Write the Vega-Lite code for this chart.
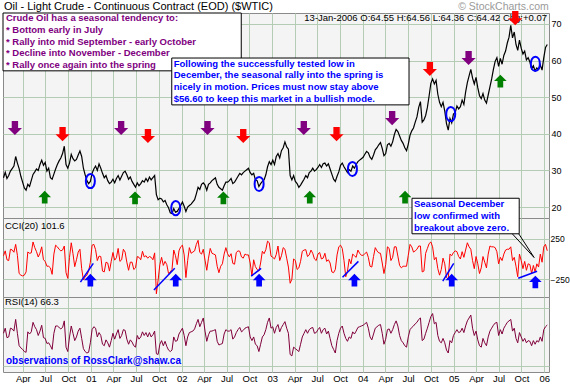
{
"$schema":"https://vega.github.io/schema/vega-lite/v6.json",
"padding":0,
"spacing":0,
"bounds":"flush",
"background":"white",
"config":{
 "view":{"fill":"#f4f4f4","stroke":"#8a8a8a","strokeWidth":1},
 "axis":{"gridColor":"#b4ccb4","gridOpacity":1,"gridWidth":1,"labelFont":"Liberation Sans","labelFontSize":9,"labelColor":"#000000","title":null,"domain":false,"ticks":false},
 "text":{"font":"Liberation Sans"}
},
"datasets":{
"s":[
{"d":"2000-01-14","p":28.0,"c":40,"r":55},{"d":"2000-01-21","p":29.5,"c":100,"r":62},{"d":"2000-01-28","p":27.8,"c":-10,"r":49},{"d":"2000-02-04","p":28.6,"c":-20,"r":50},{"d":"2000-02-11","p":29.8,"c":120,"r":62},{"d":"2000-02-18","p":30.5,"c":112,"r":61},{"d":"2000-02-25","p":31.2,"c":83,"r":58},{"d":"2000-03-03","p":33.8,"c":180,"r":74},{"d":"2000-03-10","p":32.0,"c":45,"r":55},{"d":"2000-03-17","p":30.5,"c":-180,"r":38},{"d":"2000-03-24","p":28.4,"c":-200,"r":35},{"d":"2000-03-31","p":26.8,"c":-210,"r":33},{"d":"2000-04-07","p":25.2,"c":-200,"r":30},{"d":"2000-04-14","p":24.6,"c":-160,"r":29},{"d":"2000-04-21","p":26.2,"c":86,"r":57},{"d":"2000-04-28","p":25.6,"c":70,"r":54},{"d":"2000-05-05","p":27.3,"c":75,"r":57},{"d":"2000-05-12","p":28.9,"c":210,"r":70},{"d":"2000-05-19","p":29.6,"c":140,"r":64},{"d":"2000-05-26","p":30.4,"c":90,"r":60},{"d":"2000-06-02","p":30.0,"c":24,"r":52},{"d":"2000-06-09","p":31.6,"c":72,"r":58},{"d":"2000-06-16","p":32.8,"c":150,"r":66},{"d":"2000-06-23","p":31.4,"c":-10,"r":49},{"d":"2000-06-30","p":32.2,"c":-30,"r":48},{"d":"2000-07-07","p":29.8,"c":-90,"r":41},{"d":"2000-07-14","p":30.6,"c":-90,"r":42},{"d":"2000-07-21","p":28.0,"c":-110,"r":38},{"d":"2000-07-28","p":27.6,"c":-190,"r":33},{"d":"2000-08-04","p":29.0,"c":60,"r":55},{"d":"2000-08-11","p":30.4,"c":170,"r":65},{"d":"2000-08-18","p":31.6,"c":150,"r":65},{"d":"2000-08-25","p":32.6,"c":120,"r":63},{"d":"2000-09-01","p":33.4,"c":100,"r":61},{"d":"2000-09-08","p":34.6,"c":110,"r":63},{"d":"2000-09-15","p":36.6,"c":160,"r":72},{"d":"2000-09-22","p":31.6,"c":-170,"r":36},{"d":"2000-09-29","p":30.6,"c":-240,"r":30},{"d":"2000-10-06","p":32.0,"c":20,"r":50},{"d":"2000-10-13","p":34.4,"c":200,"r":65},{"d":"2000-10-20","p":33.2,"c":65,"r":55},{"d":"2000-10-27","p":32.6,"c":-95,"r":45},{"d":"2000-11-03","p":33.0,"c":-10,"r":50},{"d":"2000-11-10","p":34.2,"c":85,"r":58},{"d":"2000-11-17","p":35.3,"c":120,"r":62},{"d":"2000-11-24","p":33.8,"c":-120,"r":48},{"d":"2000-12-01","p":30.6,"c":-260,"r":34},{"d":"2000-12-08","p":28.8,"c":-220,"r":30},{"d":"2000-12-15","p":27.2,"c":-200,"r":28},{"d":"2000-12-22","p":26.4,"c":-150,"r":29},{"d":"2000-12-29","p":27.0,"c":-40,"r":42},
{"d":"2001-01-05","p":29.2,"c":170,"r":60},{"d":"2001-01-12","p":30.4,"c":180,"r":64},{"d":"2001-01-19","p":31.2,"c":115,"r":62},{"d":"2001-01-26","p":30.0,"c":-20,"r":50},{"d":"2001-02-02","p":31.8,"c":35,"r":56},{"d":"2001-02-09","p":30.6,"c":30,"r":52},{"d":"2001-02-16","p":29.2,"c":-150,"r":40},{"d":"2001-02-23","p":28.0,"c":-160,"r":38},{"d":"2001-03-02","p":28.6,"c":-40,"r":46},{"d":"2001-03-09","p":27.2,"c":-50,"r":42},{"d":"2001-03-16","p":26.4,"c":-150,"r":36},{"d":"2001-03-23","p":26.8,"c":-30,"r":45},{"d":"2001-03-30","p":27.6,"c":80,"r":55},{"d":"2001-04-06","p":26.6,"c":-15,"r":47},{"d":"2001-04-13","p":27.8,"c":15,"r":54},{"d":"2001-04-20","p":28.6,"c":130,"r":60},{"d":"2001-04-27","p":27.4,"c":-30,"r":48},{"d":"2001-05-04","p":28.4,"c":-10,"r":52},{"d":"2001-05-11","p":29.4,"c":120,"r":60},{"d":"2001-05-18","p":29.8,"c":85,"r":59},{"d":"2001-05-25","p":28.8,"c":-40,"r":47},{"d":"2001-06-01","p":27.6,"c":-140,"r":40},{"d":"2001-06-08","p":28.2,"c":-40,"r":46},{"d":"2001-06-15","p":27.0,"c":-40,"r":43},{"d":"2001-06-22","p":26.2,"c":-130,"r":38},{"d":"2001-06-29","p":25.4,"c":-110,"r":36},{"d":"2001-07-06","p":26.6,"c":30,"r":52},{"d":"2001-07-13","p":25.8,"c":20,"r":47},{"d":"2001-07-20","p":26.4,"c":-10,"r":50},{"d":"2001-07-27","p":27.2,"c":95,"r":57},{"d":"2001-08-03","p":26.8,"c":25,"r":52},{"d":"2001-08-10","p":27.8,"c":40,"r":56},{"d":"2001-08-17","p":27.0,"c":10,"r":50},{"d":"2001-08-24","p":28.2,"c":30,"r":56},{"d":"2001-08-31","p":27.4,"c":20,"r":50},{"d":"2001-09-07","p":28.0,"c":-10,"r":53},{"d":"2001-09-14","p":28.6,"c":75,"r":58},{"d":"2001-09-21","p":23.4,"c":-430,"r":27},{"d":"2001-09-28","p":22.0,"c":-260,"r":26},{"d":"2001-10-05","p":22.4,"c":-70,"r":40},{"d":"2001-10-12","p":22.2,"c":20,"r":45},{"d":"2001-10-19","p":21.4,"c":-80,"r":38},{"d":"2001-10-26","p":21.8,"c":-30,"r":44},{"d":"2001-11-02","p":20.6,"c":-70,"r":37},{"d":"2001-11-09","p":19.8,"c":-180,"r":32},{"d":"2001-11-16","p":18.4,"c":-160,"r":30},{"d":"2001-11-23","p":18.2,"c":-130,"r":32},{"d":"2001-11-30","p":19.6,"c":110,"r":50},{"d":"2001-12-07","p":18.6,"c":40,"r":44},{"d":"2001-12-14","p":18.8,"c":-70,"r":45},{"d":"2001-12-21","p":19.6,"c":100,"r":54},{"d":"2001-12-28","p":20.4,"c":150,"r":58},
{"d":"2002-01-04","p":21.4,"c":170,"r":62},{"d":"2002-01-11","p":20.2,"c":50,"r":52},{"d":"2002-01-18","p":18.8,"c":-230,"r":38},{"d":"2002-01-25","p":20.0,"c":-20,"r":50},{"d":"2002-02-01","p":20.4,"c":140,"r":56},{"d":"2002-02-08","p":20.8,"c":70,"r":57},{"d":"2002-02-15","p":21.4,"c":85,"r":58},{"d":"2002-02-22","p":22.0,"c":100,"r":61},{"d":"2002-03-01","p":23.6,"c":180,"r":68},{"d":"2002-03-08","p":25.4,"c":230,"r":74},{"d":"2002-03-15","p":24.8,"c":80,"r":64},{"d":"2002-03-22","p":26.2,"c":60,"r":70},{"d":"2002-03-29","p":26.6,"c":120,"r":76},{"d":"2002-04-05","p":26.0,"c":-15,"r":58},{"d":"2002-04-12","p":24.6,"c":-140,"r":44},{"d":"2002-04-19","p":26.2,"c":10,"r":53},{"d":"2002-04-26","p":26.6,"c":130,"r":58},{"d":"2002-05-03","p":27.2,"c":70,"r":58},{"d":"2002-05-10","p":27.6,"c":60,"r":59},{"d":"2002-05-17","p":28.0,"c":50,"r":60},{"d":"2002-05-24","p":26.2,"c":-90,"r":44},{"d":"2002-05-31","p":25.4,"c":-170,"r":39},{"d":"2002-06-07","p":25.0,"c":-90,"r":40},{"d":"2002-06-14","p":24.6,"c":-60,"r":41},{"d":"2002-06-21","p":25.8,"c":60,"r":54},{"d":"2002-06-28","p":26.8,"c":140,"r":60},{"d":"2002-07-05","p":26.8,"c":65,"r":58},{"d":"2002-07-12","p":27.2,"c":25,"r":58},{"d":"2002-07-19","p":27.8,"c":65,"r":60},{"d":"2002-07-26","p":26.4,"c":-55,"r":47},{"d":"2002-08-02","p":26.8,"c":-65,"r":50},{"d":"2002-08-09","p":27.6,"c":80,"r":56},{"d":"2002-08-16","p":28.4,"c":100,"r":60},{"d":"2002-08-23","p":29.2,"c":95,"r":63},{"d":"2002-08-30","p":28.8,"c":25,"r":57},{"d":"2002-09-06","p":29.4,"c":10,"r":59},{"d":"2002-09-13","p":29.8,"c":60,"r":62},{"d":"2002-09-20","p":30.2,"c":50,"r":63},{"d":"2002-09-27","p":30.6,"c":50,"r":64},{"d":"2002-10-04","p":29.4,"c":-50,"r":50},{"d":"2002-10-11","p":28.8,"c":-210,"r":45},{"d":"2002-10-18","p":29.2,"c":-10,"r":50},{"d":"2002-10-25","p":27.4,"c":-95,"r":40},{"d":"2002-11-01","p":27.2,"c":-130,"r":38},{"d":"2002-11-08","p":25.6,"c":-150,"r":30},{"d":"2002-11-15","p":26.4,"c":-50,"r":40},{"d":"2002-11-22","p":27.0,"c":95,"r":50},{"d":"2002-11-29","p":27.4,"c":65,"r":53},{"d":"2002-12-06","p":28.8,"c":115,"r":60},{"d":"2002-12-13","p":31.0,"c":220,"r":70},{"d":"2002-12-20","p":32.4,"c":200,"r":76},{"d":"2002-12-27","p":31.6,"c":35,"r":62},
{"d":"2003-01-03","p":32.8,"c":20,"r":64},{"d":"2003-01-10","p":31.6,"c":0,"r":55},{"d":"2003-01-17","p":33.8,"c":55,"r":63},{"d":"2003-01-24","p":34.6,"c":160,"r":67},{"d":"2003-01-31","p":33.4,"c":-20,"r":57},{"d":"2003-02-07","p":35.4,"c":40,"r":63},{"d":"2003-02-14","p":36.2,"c":140,"r":67},{"d":"2003-02-21","p":37.8,"c":120,"r":71},{"d":"2003-02-28","p":36.4,"c":10,"r":62},{"d":"2003-03-07","p":35.8,"c":-100,"r":55},{"d":"2003-03-14","p":28.6,"c":-300,"r":26},{"d":"2003-03-21","p":27.4,"c":-250,"r":24},{"d":"2003-03-28","p":28.6,"c":0,"r":36},{"d":"2003-04-04","p":27.0,"c":-20,"r":34},{"d":"2003-04-11","p":26.4,"c":-130,"r":32},{"d":"2003-04-18","p":25.4,"c":-110,"r":30},{"d":"2003-04-25","p":26.0,"c":-30,"r":40},{"d":"2003-05-02","p":26.8,"c":95,"r":50},{"d":"2003-05-09","p":27.6,"c":110,"r":55},{"d":"2003-05-16","p":28.6,"c":115,"r":60},{"d":"2003-05-23","p":28.0,"c":30,"r":55},{"d":"2003-05-30","p":29.4,"c":50,"r":60},{"d":"2003-06-06","p":29.8,"c":110,"r":62},{"d":"2003-06-13","p":30.6,"c":70,"r":63},{"d":"2003-06-20","p":29.8,"c":0,"r":55},{"d":"2003-06-27","p":30.2,"c":-20,"r":56},{"d":"2003-07-04","p":30.8,"c":60,"r":60},{"d":"2003-07-11","p":31.6,"c":80,"r":63},{"d":"2003-07-18","p":30.8,"c":0,"r":55},{"d":"2003-07-25","p":31.8,"c":10,"r":60},{"d":"2003-08-01","p":32.0,"c":70,"r":62},{"d":"2003-08-08","p":31.2,"c":-30,"r":54},{"d":"2003-08-15","p":31.8,"c":-10,"r":58},{"d":"2003-08-22","p":30.4,"c":-50,"r":48},{"d":"2003-08-29","p":29.0,"c":-160,"r":38},{"d":"2003-09-05","p":27.6,"c":-170,"r":33},{"d":"2003-09-12","p":27.0,"c":-130,"r":28},{"d":"2003-09-19","p":28.4,"c":50,"r":45},{"d":"2003-09-26","p":29.6,"c":150,"r":55},{"d":"2003-10-03","p":31.4,"c":170,"r":62},{"d":"2003-10-10","p":32.0,"c":130,"r":65},{"d":"2003-10-17","p":31.0,"c":-20,"r":55},{"d":"2003-10-24","p":30.2,"c":-220,"r":48},{"d":"2003-10-31","p":29.4,"c":-150,"r":44},{"d":"2003-11-07","p":30.2,"c":0,"r":50},{"d":"2003-11-14","p":29.8,"c":-60,"r":48},{"d":"2003-11-21","p":31.2,"c":60,"r":57},{"d":"2003-11-28","p":30.6,"c":40,"r":54},{"d":"2003-12-05","p":31.6,"c":20,"r":58},{"d":"2003-12-12","p":32.4,"c":110,"r":63},{"d":"2003-12-19","p":32.8,"c":70,"r":64},{"d":"2003-12-26","p":33.2,"c":45,"r":65},
{"d":"2004-01-02","p":33.6,"c":45,"r":66},{"d":"2004-01-09","p":34.4,"c":65,"r":68},{"d":"2004-01-16","p":35.2,"c":85,"r":70},{"d":"2004-01-23","p":34.8,"c":20,"r":62},{"d":"2004-01-30","p":33.6,"c":-90,"r":50},{"d":"2004-02-06","p":33.0,"c":-100,"r":46},{"d":"2004-02-13","p":34.2,"c":30,"r":54},{"d":"2004-02-20","p":35.6,"c":140,"r":62},{"d":"2004-02-27","p":36.2,"c":100,"r":64},{"d":"2004-03-05","p":37.0,"c":75,"r":66},{"d":"2004-03-12","p":37.6,"c":70,"r":67},{"d":"2004-03-19","p":36.0,"c":-50,"r":55},{"d":"2004-03-26","p":34.0,"c":-180,"r":40},{"d":"2004-04-02","p":34.6,"c":-70,"r":47},{"d":"2004-04-09","p":37.0,"c":150,"r":60},{"d":"2004-04-16","p":37.4,"c":130,"r":61},{"d":"2004-04-23","p":36.6,"c":-20,"r":55},{"d":"2004-04-30","p":37.8,"c":20,"r":60},{"d":"2004-05-07","p":39.8,"c":150,"r":67},{"d":"2004-05-14","p":41.2,"c":150,"r":72},{"d":"2004-05-21","p":40.6,"c":35,"r":65},{"d":"2004-05-28","p":39.4,"c":-80,"r":52},{"d":"2004-06-04","p":38.2,"c":-110,"r":45},{"d":"2004-06-11","p":37.4,"c":-90,"r":42},{"d":"2004-06-18","p":36.2,"c":-90,"r":38},{"d":"2004-06-25","p":35.4,"c":-90,"r":36},{"d":"2004-07-02","p":37.2,"c":45,"r":50},{"d":"2004-07-09","p":39.6,"c":180,"r":60},{"d":"2004-07-16","p":40.8,"c":150,"r":63},{"d":"2004-07-23","p":41.6,"c":85,"r":65},{"d":"2004-07-30","p":43.2,"c":100,"r":68},{"d":"2004-08-06","p":44.6,"c":120,"r":70},{"d":"2004-08-13","p":47.2,"c":160,"r":74},{"d":"2004-08-20","p":48.8,"c":160,"r":76},{"d":"2004-08-27","p":43.2,"c":-160,"r":45},{"d":"2004-09-03","p":43.8,"c":-150,"r":47},{"d":"2004-09-10","p":45.0,"c":70,"r":55},{"d":"2004-09-17","p":47.2,"c":130,"r":62},{"d":"2004-09-24","p":50.4,"c":190,"r":70},{"d":"2004-10-01","p":53.8,"c":210,"r":78},{"d":"2004-10-08","p":55.0,"c":150,"r":82},{"d":"2004-10-15","p":53.6,"c":-10,"r":68},{"d":"2004-10-22","p":54.6,"c":20,"r":70},{"d":"2004-10-29","p":50.8,"c":-120,"r":52},{"d":"2004-11-05","p":48.6,"c":-200,"r":44},{"d":"2004-11-12","p":47.4,"c":-130,"r":42},{"d":"2004-11-19","p":48.6,"c":10,"r":48},{"d":"2004-11-26","p":46.2,"c":-60,"r":42},{"d":"2004-12-03","p":42.8,"c":-230,"r":32},{"d":"2004-12-10","p":41.0,"c":-250,"r":28},{"d":"2004-12-17","p":44.2,"c":60,"r":45},{"d":"2004-12-24","p":43.0,"c":40,"r":42},{"d":"2004-12-31","p":45.4,"c":80,"r":52},
{"d":"2005-01-07","p":45.8,"c":100,"r":56},{"d":"2005-01-14","p":47.6,"c":90,"r":60},{"d":"2005-01-21","p":46.8,"c":30,"r":56},{"d":"2005-01-28","p":47.4,"c":0,"r":57},{"d":"2005-02-04","p":49.2,"c":90,"r":62},{"d":"2005-02-11","p":48.0,"c":20,"r":56},{"d":"2005-02-18","p":51.4,"c":110,"r":65},{"d":"2005-02-25","p":54.0,"c":200,"r":72},{"d":"2005-03-04","p":55.8,"c":150,"r":76},{"d":"2005-03-11","p":57.6,"c":120,"r":80},{"d":"2005-03-18","p":55.2,"c":-20,"r":62},{"d":"2005-03-25","p":53.6,"c":-120,"r":52},{"d":"2005-04-01","p":55.4,"c":30,"r":58},{"d":"2005-04-08","p":52.6,"c":-60,"r":46},{"d":"2005-04-15","p":50.4,"c":-180,"r":38},{"d":"2005-04-22","p":49.6,"c":-110,"r":36},{"d":"2005-04-29","p":51.0,"c":30,"r":48},{"d":"2005-05-06","p":49.2,"c":-40,"r":42},{"d":"2005-05-13","p":48.4,"c":-110,"r":38},{"d":"2005-05-20","p":50.6,"c":60,"r":50},{"d":"2005-05-27","p":52.8,"c":160,"r":58},{"d":"2005-06-03","p":55.0,"c":150,"r":62},{"d":"2005-06-10","p":57.6,"c":150,"r":66},{"d":"2005-06-17","p":59.8,"c":140,"r":69},{"d":"2005-06-24","p":60.8,"c":90,"r":70},{"d":"2005-07-01","p":58.4,"c":-60,"r":52},{"d":"2005-07-08","p":60.6,"c":20,"r":60},{"d":"2005-07-15","p":59.0,"c":-20,"r":54},{"d":"2005-07-22","p":61.4,"c":60,"r":62},{"d":"2005-07-29","p":62.6,"c":110,"r":66},{"d":"2005-08-05","p":64.8,"c":120,"r":70},{"d":"2005-08-12","p":66.4,"c":120,"r":72},{"d":"2005-08-19","p":69.6,"c":150,"r":74},{"d":"2005-08-26","p":66.2,"c":-20,"r":58},{"d":"2005-09-02","p":67.8,"c":20,"r":62},{"d":"2005-09-09","p":64.4,"c":-90,"r":48},{"d":"2005-09-16","p":62.8,"c":-220,"r":42},{"d":"2005-09-23","p":65.6,"c":60,"r":56},{"d":"2005-09-30","p":63.4,"c":-20,"r":50},{"d":"2005-10-07","p":61.8,"c":-120,"r":44},{"d":"2005-10-14","p":62.6,"c":-30,"r":48},{"d":"2005-10-21","p":60.2,"c":-140,"r":42},{"d":"2005-10-28","p":60.8,"c":-60,"r":45},{"d":"2005-11-04","p":59.6,"c":-70,"r":44},{"d":"2005-11-11","p":57.8,"c":-180,"r":38},{"d":"2005-11-18","p":58.6,"c":-80,"r":45},{"d":"2005-11-25","p":57.2,"c":-160,"r":40},{"d":"2005-12-02","p":58.0,"c":-60,"r":45},{"d":"2005-12-09","p":57.6,"c":-100,"r":43},{"d":"2005-12-16","p":58.8,"c":60,"r":50},{"d":"2005-12-23","p":57.4,"c":-40,"r":44},{"d":"2005-12-30","p":60.8,"c":150,"r":60},{"d":"2006-01-06","p":63.6,"c":180,"r":64},{"d":"2006-01-13","p":64.4,"c":101.6,"r":66.3}
],
"down":[
{"d":"2000-02-29","v":41.6,"k":"#800080"},{"d":"2001-05-02","v":41.6,"k":"#800080"},{"d":"2002-04-15","v":41.6,"k":"#800080"},{"d":"2003-05-08","v":41.6,"k":"#800080"},{"d":"2004-04-28","v":44.3,"k":"#800080"},{"d":"2005-03-02","v":60.7,"k":"#800080"},
{"d":"2000-09-08","v":39.9,"k":"#ff0000"},{"d":"2001-08-18","v":39.4,"k":"#ff0000"},{"d":"2002-09-06","v":39.4,"k":"#ff0000"},{"d":"2003-09-17","v":39.9,"k":"#ff0000"},{"d":"2004-09-27","v":57.7,"k":"#ff0000"},{"d":"2005-09-06","v":71.6,"k":"#ff0000"}
],
"up":[
{"d":"2000-06-28","v":22.7},{"d":"2001-06-27","v":22.5},{"d":"2002-06-18","v":22.5},{"d":"2003-06-01","v":22.7},{"d":"2004-06-19","v":22.7},{"d":"2005-07-08","v":54.4}
],
"circ":[
{"d":"2000-12-29","v":27.1},{"d":"2001-12-08","v":19.7},{"d":"2002-11-09","v":26.3},{"d":"2003-11-20","v":30.4},{"d":"2004-12-20","v":45.4},{"d":"2005-11-26","v":59.1}
],
"bup":[
{"d":"2000-12-29","v":-262},{"d":"2001-12-08","v":-262},{"d":"2002-11-09","v":-262},{"d":"2003-11-28","v":-262},{"d":"2004-12-24","v":-262},{"d":"2005-11-26","v":-285}
],
"tl":[
{"d":"2000-11-19","v":-287,"d2":"2001-01-10","v2":-55},{"d":"2001-09-11","v":-384,"d2":"2001-12-04","v2":-116},{"d":"2002-10-08","v":-213,"d2":"2002-11-17","v2":-116},{"d":"2003-10-11","v":-226,"d2":"2003-12-14","v2":-30},{"d":"2004-11-18","v":-274,"d2":"2005-01-01","v2":-55},{"d":"2005-09-18","v":-238,"d2":"2005-12-03","v2":-152}
]
},
"vconcat":[
{
 "width":546,"height":205,
 "encoding":{"x":{"field":"d","type":"temporal","scale":{"type":"utc","domain":[{"year":2000,"month":1,"date":12,"utc":true},{"year":2006,"month":1,"date":20,"utc":true}]},"axis":{"labels":false,"grid":true,"tickCount":{"interval":"month","step":3}}}},
 "layer":[
  {"data":{"name":"s"},"mark":{"type":"line","color":"#000000","strokeWidth":1.2},
   "encoding":{"y":{"field":"p","type":"quantitative","scale":{"domain":[17,73],"nice":false,"zero":false},"axis":{"orient":"right","values":[20,25,30,35,40,45,50,55,60,65,70],"labelExpr":"datum.value % 10 == 0 ? datum.label : ''","grid":true,"labelPadding":2}}}},
  {"data":{"values":[{"d":"2000-01-12","d2":"2002-08-29","v":73,"v2":57.2},{"d":"2001-11-22","d2":"2004-07-05","v":60.7,"v2":47.9}]},
   "mark":{"type":"rect","fill":"#ffffff","stroke":"#000000","strokeWidth":1,"clip":false},
   "encoding":{"x2":{"field":"d2"},"y":{"field":"v","type":"quantitative"},"y2":{"field":"v2"}}},
  {"data":{"values":[{"d":"2000-01-24","v":71.6,"t":"Crude Oil has a seasonal tendency to:"},{"d":"2000-01-24","v":68.4,"t":"* Bottom early in July"},{"d":"2000-01-24","v":65.1,"t":"* Rally into mid September - early October"},{"d":"2000-01-24","v":62.1,"t":"* Decline into November - December"},{"d":"2000-01-24","v":58.8,"t":"* Rally once again into the spring"}]},
   "mark":{"type":"text","align":"left","baseline":"middle","fontSize":9.5,"fontWeight":"bold","color":"#800080","clip":false},
   "encoding":{"y":{"field":"v","type":"quantitative"},"text":{"field":"t"}}},
  {"data":{"values":[{"d":"2001-11-30","v":59.1,"t":"Following the successfully tested low in"},{"d":"2001-11-30","v":56.1,"t":"December, the seasonal rally into the spring is"},{"d":"2001-11-30","v":52.8,"t":"nicely in motion.  Prices must now stay above"},{"d":"2001-11-30","v":49.5,"t":"$56.60 to keep this market in a bullish mode."}]},
   "mark":{"type":"text","align":"left","baseline":"middle","fontSize":9.5,"fontWeight":"bold","color":"#0000ff","clip":false},
   "encoding":{"y":{"field":"v","type":"quantitative"},"text":{"field":"t"}}},
  {"data":{"values":[{"d":"2000-01-16","v":74.6,"t":"Oil - Light Crude - Continuous Contract (EOD) ($WTIC)"}]},
   "mark":{"type":"text","align":"left","baseline":"middle","fontSize":11,"color":"#000000","clip":false},
   "encoding":{"y":{"field":"v","type":"quantitative"},"text":{"field":"t"}}},
  {"data":{"values":[{"d":"2006-01-19","v":74.6,"t":"© StockCharts.com"}]},
   "mark":{"type":"text","align":"right","baseline":"middle","fontSize":10.5,"color":"#9a9a9a","clip":false},
   "encoding":{"y":{"field":"v","type":"quantitative"},"text":{"field":"t"}}},
  {"data":{"values":[{"d":"2006-01-12","v":71.6,"t":"13-Jan-2006 O:64.55 H:64.56 L:64.36 C:64.42 Chg:+0.07"}]},
   "mark":{"type":"text","align":"right","baseline":"middle","fontSize":9.5,"color":"#000000","clip":false},
   "encoding":{"y":{"field":"v","type":"quantitative"},"text":{"field":"t"}}},
  {"data":{"name":"circ"},
   "mark":{"type":"point","shape":"M0,-1C0.85,-1 0.85,1 0,1C-0.85,1 -0.85,-1 0,-1Z","filled":false,"stroke":"#0000ff","strokeWidth":2,"size":200,"opacity":1},
   "encoding":{"y":{"field":"v","type":"quantitative"}}},
  {"data":{"name":"down"},
   "mark":{"type":"point","shape":"M-0.45,-1L0.45,-1L0.45,0L1,0L0,1L-1,0L-0.45,0Z","filled":true,"size":200,"opacity":1,"clip":false},
   "encoding":{"y":{"field":"v","type":"quantitative"},"color":{"field":"k","type":"nominal","scale":null}}},
  {"data":{"name":"up"},
   "mark":{"type":"point","shape":"M-0.45,1L0.45,1L0.45,0L1,0L0,-1L-1,0L-0.45,0Z","filled":true,"size":160,"opacity":1,"color":"#008000"},
   "encoding":{"y":{"field":"v","type":"quantitative"}}}
 ]
},
{
 "width":546,"height":79,
 "encoding":{"x":{"field":"d","type":"temporal","scale":{"type":"utc","domain":[{"year":2000,"month":1,"date":12,"utc":true},{"year":2006,"month":1,"date":20,"utc":true}]},"axis":{"labels":false,"grid":true,"tickCount":{"interval":"month","step":3}}}},
 "layer":[
  {"data":{"name":"s"},"mark":{"type":"line","color":"#ff0000","strokeWidth":1},
   "encoding":{"y":{"field":"c","type":"quantitative","scale":{"domain":[-470,506],"nice":false,"zero":false},"axis":{"orient":"right","values":[-250,0,250],"grid":true,"labelPadding":1,"labelFontSize":8.5}}}},
  {"mark":{"type":"rule","color":"#ff0000","strokeWidth":1},"encoding":{"y":{"datum":100}}},
  {"mark":{"type":"rule","color":"#ff0000","strokeWidth":1},"encoding":{"y":{"datum":-100}}},
  {"mark":{"type":"rule","color":"#cc0000","strokeWidth":1,"strokeDash":[4,3]},"encoding":{"y":{"datum":0}}},
  {"data":{"name":"tl"},"mark":{"type":"rule","color":"#0000ff","strokeWidth":1.5,"clip":false},
   "encoding":{"x2":{"field":"d2"},"y":{"field":"v","type":"quantitative"},"y2":{"field":"v2"}}},
  {"data":{"name":"bup"},
   "mark":{"type":"point","shape":"M-0.45,1L0.45,1L0.45,0L1,0L0,-1L-1,0L-0.45,0Z","filled":true,"size":160,"opacity":1,"color":"#0000ff","clip":false},
   "encoding":{"y":{"field":"v","type":"quantitative"}}},
  {"data":{"values":[{"d":"2000-01-20","v":408,"t":"CCI(20)  101.6"}]},
   "mark":{"type":"text","align":"left","baseline":"middle","fontSize":9.5,"color":"#000000"},
   "encoding":{"y":{"field":"v","type":"quantitative"},"text":{"field":"t"}}},
  {"data":{"values":[{"d":"2004-07-17","d2":"2005-09-22","v":750,"v2":311}]},
   "mark":{"type":"rect","fill":"#ffffff","stroke":"#000000","strokeWidth":1,"clip":false},
   "encoding":{"x2":{"field":"d2"},"y":{"field":"v","type":"quantitative"},"y2":{"field":"v2"}}},
  {"data":{"values":[{"d":"2005-08-25","v":311,"d2":"2005-11-21","v2":18},{"d":"2005-09-20","v":311,"d2":"2005-11-21","v2":18}]},
   "mark":{"type":"rule","color":"#000000","strokeWidth":1,"clip":false},
   "encoding":{"x2":{"field":"d2"},"y":{"field":"v","type":"quantitative"},"y2":{"field":"v2"}}},
  {"data":{"values":[{"d":"2004-07-25","v":677,"t":"Seasonal December"},{"d":"2004-07-25","v":530,"t":"low confirmed with"},{"d":"2004-07-25","v":384,"t":"breakout above zero."}]},
   "mark":{"type":"text","align":"left","baseline":"middle","fontSize":9.5,"fontWeight":"bold","color":"#0000ff","clip":false},
   "encoding":{"y":{"field":"v","type":"quantitative"},"text":{"field":"t"}}}
 ]
},
{
 "width":546,"height":75,
 "encoding":{"x":{"field":"d","type":"temporal","scale":{"type":"utc","domain":[{"year":2000,"month":1,"date":12,"utc":true},{"year":2006,"month":1,"date":20,"utc":true}]},"axis":{"grid":true,"tickCount":{"interval":"month","step":3},"labelExpr":"utcFormat(datum.value, '%m') == '01' ? utcFormat(datum.value, '%y') : utcFormat(datum.value, '%b')","labelPadding":1,"labelFontSize":9.5}}},
 "layer":[
  {"mark":{"type":"rule","color":"#a05a80","strokeWidth":1},"encoding":{"y":{"datum":30}}},
  {"mark":{"type":"rule","color":"#80003a","strokeWidth":1},"encoding":{"y":{"datum":70}}},
  {"mark":{"type":"rule","color":"#80003a","strokeWidth":1,"strokeDash":[4,3]},"encoding":{"y":{"datum":50}}},
  {"data":{"name":"s"},"mark":{"type":"line","color":"#80003a","strokeWidth":1},
   "encoding":{"y":{"field":"r","type":"quantitative","scale":{"domain":[2,104.7],"nice":false,"zero":false},"axis":{"orient":"right","values":[10,30,50,70,90],"labelExpr":"datum.value == 10 || datum.value == 90 ? '' : datum.label","grid":true,"labelPadding":2}}}},
  {"data":{"values":[{"d":"2000-01-20","v":98,"t":"RSI(14)  66.3"}]},
   "mark":{"type":"text","align":"left","baseline":"middle","fontSize":9.5,"color":"#000000"},
   "encoding":{"y":{"field":"v","type":"quantitative"},"text":{"field":"t"}}},
  {"data":{"values":[{"d":"2000-01-24","v":16.7,"t":"observations of RossClark@shaw.ca"}]},
   "mark":{"type":"text","align":"left","baseline":"middle","fontSize":10,"fontWeight":"bold","color":"#0000ff"},
   "encoding":{"y":{"field":"v","type":"quantitative"},"text":{"field":"t"}}}
 ]
}
]
}
